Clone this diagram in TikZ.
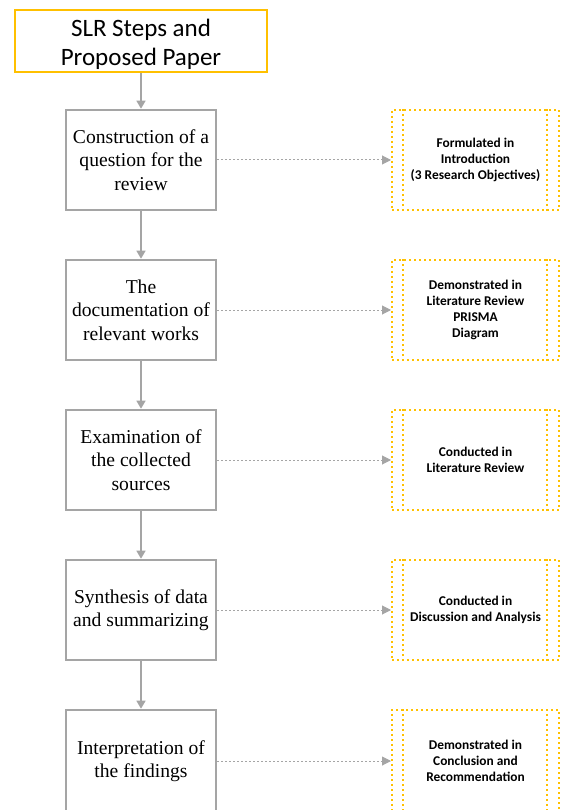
\documentclass[tikz,border=0pt]{standalone}
\usepackage{fontspec}
\setmainfont{Liberation Serif}
\newfontfamily\calibri{Carlito}
\usetikzlibrary{arrows.meta}
\definecolor{gold}{HTML}{FFC000}
\definecolor{lgray}{HTML}{A5A5A5}
\begin{document}
\begin{tikzpicture}[x=1pt,y=-1pt,
  stepbox/.style={draw=lgray,line width=2.6pt,fill=white,minimum width=150pt,minimum height=100pt,
    align=center,font=\fontsize{19.6}{23.5}\selectfont,inner sep=0pt},
  notebox/.style={draw=gold,line width=2pt,dash pattern=on 1.6pt off 3.4pt,minimum width=167pt,minimum height=100pt,
    align=center,font=\calibri\bfseries\fontsize{13.4}{16}\selectfont,inner sep=0pt},
  innerline/.style={draw=gold,line width=2pt,dash pattern=on 1.6pt off 3.4pt},
  flow/.style={draw=lgray,line width=1.5pt,-{Triangle[length=8pt,width=9pt]}},
  link/.style={draw=lgray,line width=1pt,dash pattern=on 2pt off 2pt,-{Triangle[length=9pt,width=9pt,fill=lgray]}}
]
\useasboundingbox (0,0) rectangle (560,810);
\clip (0,0) rectangle (560,810);

\node[draw=gold,line width=2.6pt,minimum width=252pt,minimum height=62pt] (t) at (141,41) {};
\node[align=center,font=\calibri\fontsize{25}{29}\selectfont,inner sep=0pt] (tt) at (141,44) {SLR Steps and\\Proposed Paper};

\node[stepbox] (s1) at (141,160) {Construction of a\\question for the\\review};
\node[stepbox] (s2) at (141,310) {The\\documentation of\\relevant works};
\node[stepbox] (s3) at (141,460) {Examination of\\the collected\\sources};
\node[stepbox] (s4) at (141,610) {Synthesis of data\\and summarizing};
\node[stepbox,minimum height=102pt] (s5) at (141,761) {Interpretation of\\the findings};

\node[notebox] (r1) at (475.5,160) {Formulated in\\Introduction\\(3 Research Objectives)};
\node[notebox] (r2) at (475.5,310) {Demonstrated in\\Literature Review\\PRISMA\\Diagram};
\node[notebox] (r3) at (475.5,460) {Conducted in\\Literature Review};
\node[notebox] (r4) at (475.5,610) {Conducted in\\Discussion and Analysis};
\node[notebox,minimum height=102pt] (r5) at (475.5,761) {Demonstrated in\\Conclusion and\\Recommendation};

\foreach \r in {r1,r2,r3,r4,r5}{
  \draw[innerline] ([xshift=12pt]\r.north west) -- ([xshift=12pt]\r.south west);
  \draw[innerline] ([xshift=-13pt]\r.north east) -- ([xshift=-13pt]\r.south east);
}

\draw[flow] (t) -- (s1);
\draw[flow] (s1) -- (s2);
\draw[flow] (s2) -- (s3);
\draw[flow] (s3) -- (s4);
\draw[flow] (s4) -- (s5);

\draw[link] (s1) -- (r1);
\draw[link] (s2) -- (r2);
\draw[link] (s3) -- (r3);
\draw[link] (s4) -- (r4);
\draw[link] (s5.east |- r5) -- (r5);
\end{tikzpicture}
\end{document}
